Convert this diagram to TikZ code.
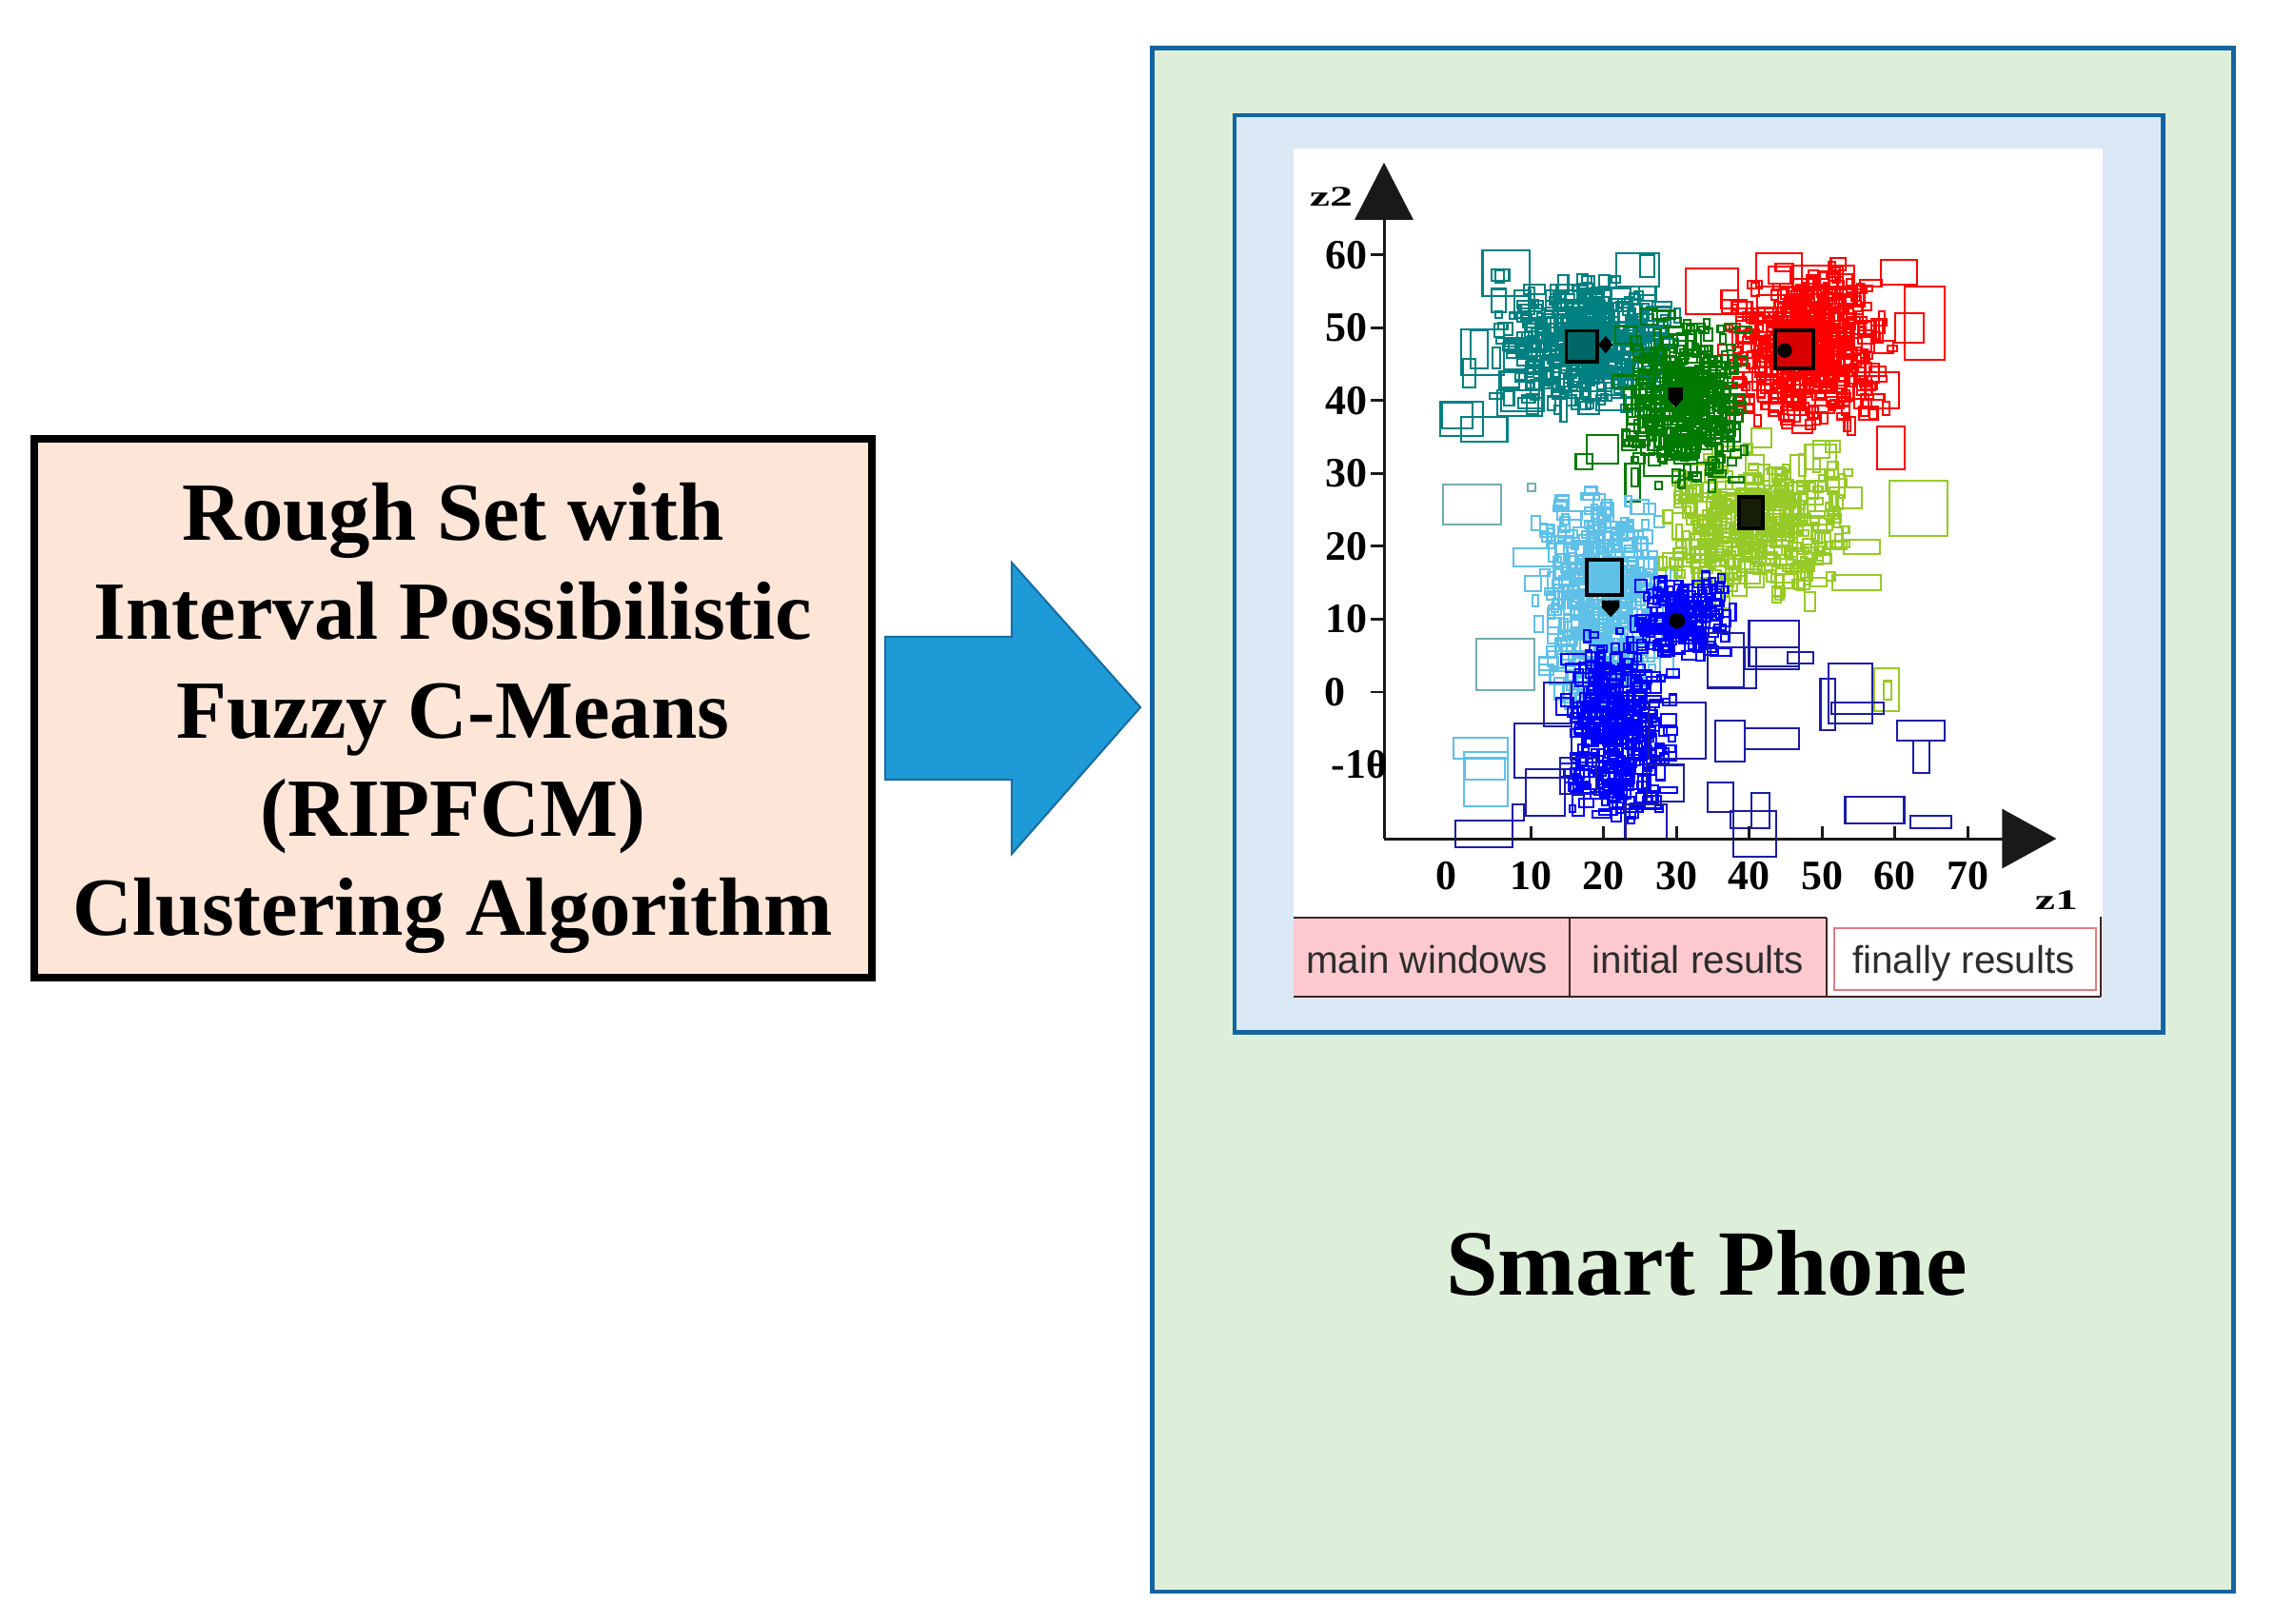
\documentclass[tikz,border=0pt]{standalone}
\usepackage{fontspec}
\setmainfont{Liberation Serif}
\newfontfamily\tabfont{Liberation Sans}
\usetikzlibrary{arrows.meta,calc}
\definecolor{peach}{RGB}{253,230,216}
\definecolor{phonebg}{RGB}{222,239,217}
\definecolor{frameblue}{RGB}{20,100,160}
\definecolor{screenbg}{RGB}{218,232,246}
\definecolor{arrowfill}{RGB}{30,155,215}
\definecolor{arrowline}{RGB}{22,110,165}
\definecolor{tabpink}{RGB}{255,202,207}
\definecolor{tabline}{RGB}{60,35,35}
\definecolor{finpink}{RGB}{222,125,135}
\definecolor{tabtext}{RGB}{45,45,45}
\definecolor{kteal}{RGB}{0,128,128}
\definecolor{kgreen}{RGB}{0,122,0}
\definecolor{kred}{RGB}{255,0,0}
\definecolor{kyg}{RGB}{150,202,40}
\definecolor{klb}{RGB}{95,192,232}
\definecolor{kblue}{RGB}{0,0,255}
\definecolor{knavy}{RGB}{28,28,165}
\definecolor{kgray}{RGB}{115,172,178}
\definecolor{axiscol}{RGB}{25,25,25}
\newcommand\rclust[8]{%
  \foreach \k in {1,...,#6}{%
    \pgfmathsetmacro\qx{#2+#4*(rand+rand)/2}%
    \pgfmathsetmacro\qy{#3+#5*(rand+rand)/2}%
    \pgfmathsetmacro\qw{#7+#8*rnd*rnd}%
    \pgfmathsetmacro\qh{#7+#8*rnd*rnd}%
    \draw[#1] (\qx-\qw/2,\qy-\qh/2) rectangle ++(\qw,\qh);
  }}
\begin{document}
\begin{tikzpicture}[
  algobox/.style={draw=black, line width=2.2pt, fill=peach, inner sep=0pt,
    minimum width=8.80cm, minimum height=5.66cm},
  algotext/.style={font=\fontsize{24.7}{29.5}\selectfont\bfseries, align=center, inner sep=0pt},
  phonebox/.style={draw=frameblue, line width=1.4pt, fill=phonebg, inner sep=0pt,
    minimum width=11.36cm, minimum height=16.215cm},
  screenbox/.style={draw=frameblue, line width=1.4pt, fill=screenbg, inner sep=0pt,
    minimum width=9.755cm, minimum height=9.635cm},
  bigarrow/.style={fill=arrowfill, draw=arrowline, line width=0.6pt, line join=miter},
  tabrule/.style={draw=tabline, line width=0.75pt},
  tablabel/.style={font=\tabfont\fontsize{11.5}{13}\selectfont, text=tabtext, anchor=base, inner sep=0pt},
  ticklab/.style={font=\fontsize{12.5}{14}\selectfont\bfseries, inner sep=0pt},
  zlab/.style={font=\fontsize{8.5}{10}\selectfont\bfseries, inner sep=0pt},
  axisline/.style={draw=axiscol, line width=0.85pt},
  cteal/.style={draw=kteal, line width=0.6pt},
  cgreen/.style={draw=kgreen, line width=0.6pt},
  cred/.style={draw=kred, line width=0.6pt},
  cyg/.style={draw=kyg, line width=0.6pt},
  clb/.style={draw=klb, line width=0.6pt},
  cblue/.style={draw=kblue, line width=0.6pt},
  cnavy/.style={draw=knavy, line width=0.6pt},
  cgray/.style={draw=kgray, line width=0.6pt},
  centre/.style={draw=black, line width=1.1pt},
]
\fill[white] (0,0) rectangle (23.89,-17.06);
\path[use as bounding box] (0,0) rectangle (23.89,-17.06);

% left box
\node[algobox] (algo) at (4.76,-7.44) {};
\node[algotext] (algotxt) at (4.76,-7.545) {Rough Set with\\Interval Possibilistic\\Fuzzy C-Means\\(RIPFCM)\\Clustering Algorithm};

% phone
\node[phonebox] (phone) at (17.785,-8.6125) {};
\node[screenbox] (screen) at (17.8475,-6.0275) {};
\node[font=\fontsize{27.9}{33}\selectfont\bfseries, anchor=base, inner sep=0pt] (phonelabel) at (17.93,-13.60) {Smart Phone};

% block arrow
\path (algo.east) ++(0.10,0) coordinate (a0);
\path (phone.west |- algo.east) ++(-0.10,0.01) coordinate (a1);
\draw[bigarrow] ($(a0)+(0,0.75)$) -- ($(a0)+(1.33,0.75)$) -- ($(a0)+(1.33,1.53)$)
  -- (a1) -- ($(a0)+(1.33,-1.53)$) -- ($(a0)+(1.33,-0.75)$) -- ($(a0)+(0,-0.75)$) -- cycle;

% white plot area
\fill[white] (13.59,-1.56) rectangle (22.09,-10.47);

% tabs
\fill[tabpink] (13.59,-9.64) rectangle (19.19,-10.47);
\draw[tabrule] (13.59,-9.64) -- (19.19,-9.64);
\draw[tabrule] (13.59,-10.47) -- (22.07,-10.47);
\draw[tabrule] (16.49,-9.64) -- (16.49,-10.47);
\draw[tabrule] (19.19,-9.64) -- (19.19,-10.47);
\draw[tabrule] (22.07,-9.63) -- (22.07,-10.47);
\draw[draw=finpink, line width=0.8pt] (19.27,-9.75) rectangle (22.02,-10.40);
\node[tablabel] (tab1) at (14.99,-10.22) {main windows};
\node[tablabel] (tab2) at (17.84,-10.22) {initial results};
\node[tablabel] (tab3) at (20.63,-10.22) {finally results};

% plot
\begin{scope}[shift={(15.315,-7.27)}, x=0.0765cm, y=0.0765cm]
  \begin{scope}
  \clip (-9.5,-23.5) rectangle (74,62);
  \pgfmathsetseed{4711}
  % sparse outliers
  \foreach \a/\b/\c/\d in {3.4/54.4/9.9/60.6, 0.5/43.5/6.3/49.8, -2.4/35.2/3.5/39.9,
      0.5/34.4/6.8/37.8, 6/38.6/11.8/43.9, 21.8/55.7/27.7/60.3, 1.8/44.4/4.1/49.7,
      0.7/41.8/2.4/45.7, 5.4/37.9/11.6/41.4, -2.2/36.2/2/39.7, 25/57/27/60}
    \draw[cteal] (\a,\b) rectangle (\c,\d);
  \foreach \a/\b/\c/\d in {41/55.7/47.3/60.3, 58.1/56/63.1/59.3, 61.4/45.6/66.9/55.7,
      54.4/39/60.6/43.9, 57.6/30.6/61.4/36.5, 31.3/51.9/38.5/58.2, 46/55.7/54.4/58.6,
      60/48/64/52}
    \draw[cred] (\a,\b) rectangle (\c,\d);
  \foreach \a/\b/\c/\d in {59.3/21.4/67.3/29, 51/25.2/55.5/28.1, 51.4/14/58.1/16.1,
      53/19/58/20.9, 47.7/30.6/51.9/34, 57.2/-2.6/60.6/3.3, 58.5/-1/59.5/1.5}
    \draw[cyg] (\a,\b) rectangle (\c,\d);
  \foreach \a/\b/\c/\d in {16.2/30.6/18.5/32.7, 17.7/31.4/22/35.3, 23/26.1/25/31.4,
      25.6/29.7/32.9/32.7}
    \draw[cgreen] (\a,\b) rectangle (\c,\d);
  \foreach \a/\b/\c/\d in {7.6/17.3/13.4/19.7, -0.6/-9.2/6.9/-6.3, 0.9/-15.7/6.9/-8.2,
      1/-12/6.5/-9}
    \draw[clb] (\a,\b) rectangle (\c,\d);
  \foreach \a/\b/\c/\d in {2.5/0.3/10.5/7.3, -2/23/6/28.5, 9.6/27.6/10.6/28.6}
    \draw[cgray] (\a,\b) rectangle (\c,\d);
  % dense clusters
  \rclust{clb}{20}{13}{10}{16}{420}{0.8}{3}
  \rclust{cyg}{41}{23}{14}{12}{360}{0.8}{3.5}
  \rclust{cteal}{17.5}{48}{13}{10}{440}{0.8}{3.5}
  \rclust{cred}{48}{47}{12}{12}{440}{0.8}{3.5}
  \rclust{cgreen}{31}{40}{9}{12}{380}{0.8}{3}
  \rclust{cblue}{31}{10}{7}{6}{170}{0.8}{2.5}
  \rclust{cblue}{22}{-5}{8}{14}{340}{0.8}{2.8}
  \foreach \a/\b/\c/\d in {-0.3/-21.3/7.5/-17.6, 7.5/-17.6/9.1/-15.4, 9.3/-17/14.7/-10.6,
      7.8/-11.8/15.6/-4.3, 23/-20.3/28.7/-15.4, 26.2/-9.1/34/-1.4, 34.3/0.5/41/6.1,
      39.4/3.1/46.9/6.1, 45.3/3.9/48.8/5.5, 35.4/-9.5/39.4/-3.9, 39.4/-7.8/46.9/-5,
      34.3/-16.5/37.8/-12.4, 37.5/-18.7/42.8/-16.3, 40.3/-18.7/42.8/-13.9,
      37.8/-22.6/43.7/-16.3, 49.8/-5.2/51.8/1.8, 50.9/-4.3/56.9/3.9, 51.3/-3/58.5/-1.4,
      60.3/-6.7/66.9/-3.9, 62.5/-11.1/64.8/-6.7, 53.2/-18/61.3/-14.4, 62.2/-18.7/67.8/-17,
      11.8/-4.7/15.6/1.3, 34.3/0.7/39.3/8.1, 40/3.5/46.9/9.8, 14/-14/19/-9, 26/-15/31/-10}
    \draw[cnavy] (\a,\b) rectangle (\c,\d);
  \end{scope}
  % centroids
  \draw[centre, fill=kteal!80!black] (14.9,45.3) rectangle (19.2,49.6);
  \fill[black] (19.3,47.7) -- (20.3,48.9) -- (21.3,47.7) -- (20.3,46.5) -- cycle;
  \fill[black] (28.9,41.8) -- (30.9,41.8) -- (30.9,40.2) -- (29.9,39.1) -- (28.9,40.2) -- cycle;
  \draw[centre, fill=kred!85!black] (43.6,44.4) rectangle (48.8,49.7);
  \fill[black] (44.9,46.9) circle (1.0);
  \draw[centre, fill=black!85!kyg] (38.6,22.5) rectangle (41.9,26.8);
  \draw[centre, fill=klb] (17.7,13.3) rectangle (22.5,18.2);
  \fill[black] (19.8,12.6) -- (22.2,12.6) -- (22.2,11.6) -- (21,10.3) -- (19.8,11.6) -- cycle;
  \fill[black] (30.1,9.8) circle (1.1);
  % axes
  \coordinate (org) at (-10.13,-20.13);
  \coordinate (ytip) at (-10.13,72.7);
  \coordinate (xtip) at (82.2,-20.13);
  \draw[axisline, -{Triangle[length=6.0mm,width=6.1mm]}] (org) -- (ytip);
  \draw[axisline, -{Triangle[length=5.7mm,width=6.2mm]}] (org) -- (xtip);
  \foreach \t in {60,50,40,30,20,10,0,-10}
    \draw[axisline] (-11.95,\t) -- (-10.13,\t);
  \foreach \t in {10,20,...,70}
    \draw[axisline] (\t,-20.13) -- (\t,-18.4);
  \foreach \t in {60,50,40,30,20,10}
    \node[ticklab, anchor=east] (yl\t) at (-12.35,\t) {\t};
  \node[ticklab, anchor=east] (yl0) at (-15.4,0) {0};
  \node[ticklab, anchor=east] (ylm) at (-9.6,-10) {-10};
  \node[ticklab] (xl0) at (-1.6,-25.2) {0};
  \foreach \t in {10,20,...,70}
    \node[ticklab] (xl\t) at (\t,-25.2) {\t};
  \node[zlab] (zy) at (-17.4,68.0) {\scalebox{1.6}[1]{z2}};
  \node[zlab] (zx) at (82.2,-28.6) {\scalebox{1.6}[1]{z1}};
\end{scope}
\end{tikzpicture}
\end{document}
